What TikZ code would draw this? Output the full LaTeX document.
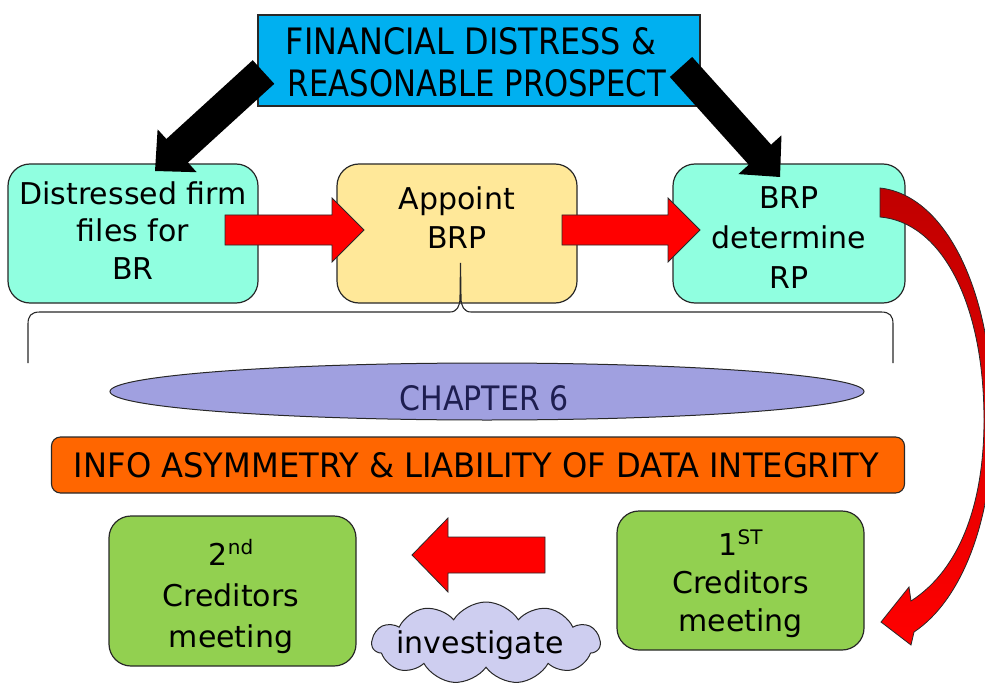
\documentclass[tikz,border=0pt]{standalone}
\usepackage{fontspec}
\setmainfont{DejaVu Sans}
\usetikzlibrary{shapes.symbols,shapes.geometric,calc}
\definecolor{titleblue}{RGB}{0,176,240}
\definecolor{tealfill}{RGB}{144,255,224}
\definecolor{yellowfill}{RGB}{255,232,153}
\definecolor{lavfill}{RGB}{160,160,224}
\definecolor{orangefill}{RGB}{255,102,0}
\definecolor{greenfill}{RGB}{146,208,80}
\definecolor{cloudfill}{RGB}{206,206,240}
\definecolor{darkred}{RGB}{192,0,0}
\definecolor{navytext}{RGB}{30,30,80}
\definecolor{edgecol}{RGB}{40,40,40}
% block arrow: style, from, to, half body, half head, head length
\newcommand\blockarr[6]{%
  \coordinate (ba-h) at ($(#3)!#6pt!(#2)$);
  \path[#1] ($(#2)!#4pt!90:(#3)$) -- ($(ba-h)!#4pt!-90:(#2)$) -- ($(ba-h)!#5pt!-90:(#2)$)
    -- (#3) -- ($(ba-h)!#5pt!90:(#2)$) -- ($(ba-h)!#4pt!90:(#2)$) -- ($(#2)!#4pt!-90:(#3)$) -- cycle;}
\newcommand\firstln{\rule{0pt}{28pt}}
\newcommand\supx[1]{\raisebox{11pt}{\fontsize{20}{20}\selectfont #1}}
\tikzset{
  box/.style={draw=edgecol, line width=1.2pt, rounded corners=22pt, inner sep=0pt},
  boxtxt/.style={align=center, inner sep=0pt, anchor=north, font=\fontsize{30}{39}\selectfont},
  squeezed/.style={inner sep=0pt, anchor=base},
  blackarr/.style={fill=black},
  redarr/.style={fill=red, draw=edgecol, line width=0.8pt},
}
\begin{document}
\begin{tikzpicture}[x=1pt,y=-1pt]
\useasboundingbox (0,0) rectangle (985,687);

% top box
\node[draw=edgecol, line width=1.2pt, fill=titleblue, minimum width=442pt, minimum height=91pt, inner sep=0pt] (title) at (479,60.5) {};
\node[squeezed] (t1) at (471,55) {\resizebox{370pt}{27pt}{FINANCIAL DISTRESS \&}};
\node[squeezed] (t2) at (477,97) {\resizebox{378pt}{27pt}{REASONABLE PROSPECT}};

% row of boxes
\node[box, fill=tealfill, minimum width=250pt, minimum height=139pt] (boxA) at (133,233.5) {};
\node[box, fill=yellowfill, minimum width=240pt, minimum height=139pt] (boxB) at (457,233.5) {};
\node[box, fill=tealfill, minimum width=232pt, minimum height=139pt] (boxC) at (789,233.5) {};
\node[boxtxt, font=\fontsize{30}{37.5}\selectfont] (tA) at (133,176) {\firstln Distressed firm\\files for\\BR};
\node[boxtxt] (tB) at (457,181) {\firstln Appoint\\BRP};
\node[boxtxt, font=\fontsize{30}{40}\selectfont] (tC) at (789,180) {\firstln BRP\\determine\\RP};

% black arrows
\coordinate (k1s) at (263.5,72); \coordinate (k1e) at (155,171);
\coordinate (k2s) at (681,67);   \coordinate (k2e) at (780,177);
\blockarr{blackarr}{k1s}{k1e}{16}{29}{30}
\blockarr{blackarr}{k2s}{k2e}{15}{29}{30}

% red arrows
\coordinate (r1s) at (225,230); \coordinate (r1e) at (364,230);
\coordinate (r2s) at (562,230); \coordinate (r2e) at (700,230);
\blockarr{redarr}{r1s}{r1e}{15}{32}{32}
\blockarr{redarr}{r2s}{r2e}{15}{32}{32}

% brace
\draw[edgecol, line width=1.1pt] (28,363) -- (28,324) .. controls (28,316) and (31,312) .. (40,312)
  -- (450,312) .. controls (457,312) and (460,306) .. (460,298) -- (460.5,263)
  -- (461,298) .. controls (461,306) and (464,312) .. (471,312)
  -- (881,312) .. controls (890,312) and (893,316) .. (893,324) -- (893,363);

% chapter 6
\node[ellipse, draw=edgecol, line width=1pt, fill=lavfill, minimum width=754pt, minimum height=57pt, inner sep=0pt] (ch6) at (487,391.5) {};
\node[squeezed, text=navytext] (ch6t) at (484,410) {\resizebox{169pt}{25pt}{CHAPTER 6}};

% info bar
\node[draw=edgecol, line width=1.1pt, fill=orangefill, rounded corners=9pt, minimum width=853pt, minimum height=56pt, inner sep=0pt] (info) at (478,465) {};
\node[squeezed] (infot) at (476.5,477) {\resizebox{805pt}{25pt}{INFO ASYMMETRY \& LIABILITY OF DATA INTEGRITY}};

% green boxes
\node[box, fill=greenfill, minimum width=247pt, minimum height=150pt] (g2) at (232.5,591) {};
\node[box, fill=greenfill, minimum width=247pt, minimum height=139pt] (g1) at (740.5,580.5) {};
\node[boxtxt, font=\fontsize{30}{41}\selectfont] (g2t) at (231,537) {\firstln 2\supx{nd}\\Creditors\\meeting};
\node[boxtxt, font=\fontsize{30}{38}\selectfont] (g1t) at (740.5,527) {\firstln 1\supx{ST}\\Creditors\\meeting};

% cloud
\node[cloud, cloud puffs=11, cloud puff arc=115, draw=edgecol, line width=1pt, fill=cloudfill,
  minimum width=228pt, minimum height=82pt, inner sep=0pt] (cloud) at (486,643) {};
\node[inner sep=0pt, anchor=base, font=\fontsize{30}{36}\selectfont] (cloudt) at (480,653) {investigate};

% left red arrow
\coordinate (r3s) at (545,555); \coordinate (r3e) at (412,555);
\blockarr{redarr}{r3s}{r3e}{18}{37}{36}

% curved arrow from BRP box to 1st meeting
\path[draw=edgecol, line width=0.8pt, top color=darkred, middle color=darkred!55!red, bottom color=red]
  (880,188) .. controls (945,195) and (993,290) .. (993,420)
  .. controls (993,520) and (962,600) .. (914,632) -- (911,645) -- (881,622) -- (909,587) -- (911,601)
  .. controls (962,568) and (984,500) .. (984,420)
  .. controls (984,300) and (940,222) .. (880,217) -- cycle;
\end{tikzpicture}
\end{document}
